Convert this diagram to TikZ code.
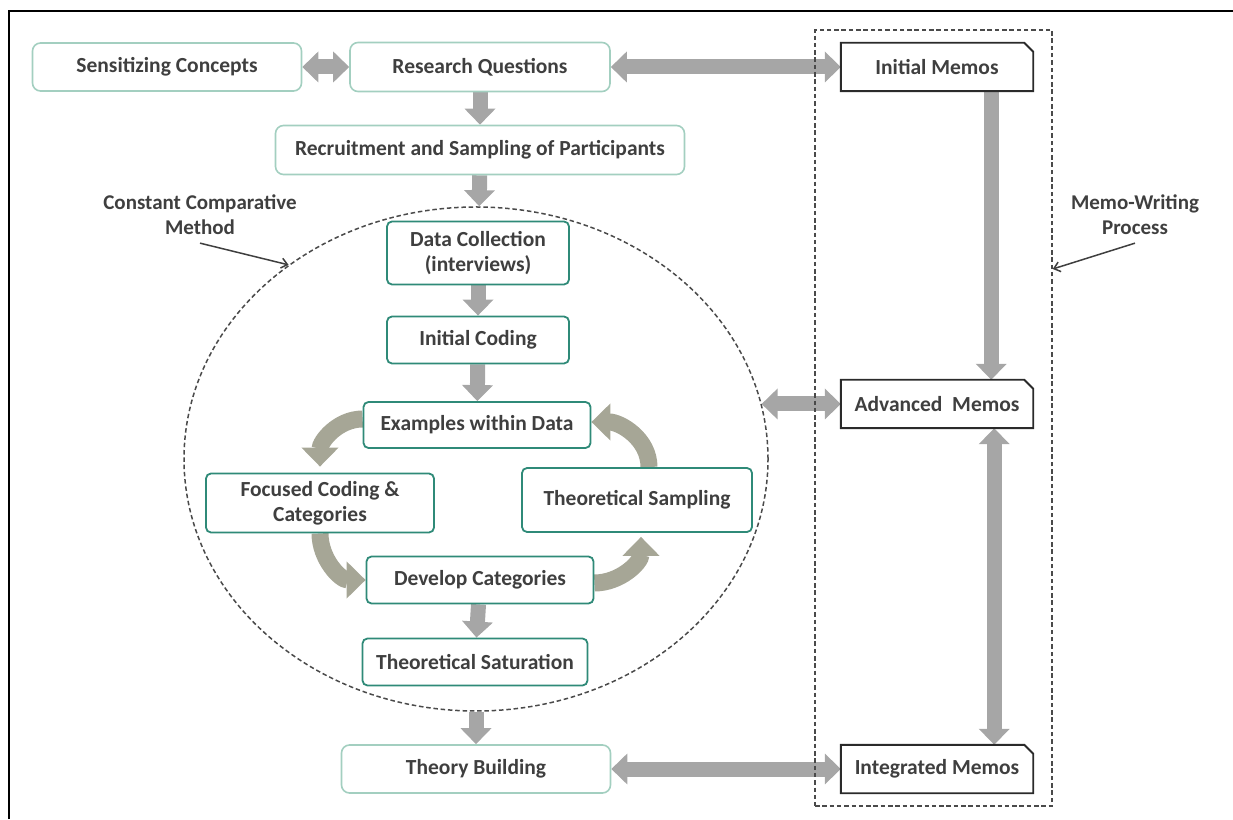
\documentclass[tikz,border=0pt]{standalone}
\usepackage{fontspec}
\setmainfont{Carlito}
\usetikzlibrary{arrows.meta,shapes.geometric,backgrounds}

\definecolor{txt}{HTML}{3F3F3F}
\definecolor{boxlight}{HTML}{A3CFC0}
\definecolor{boxteal}{HTML}{2F8A78}
\definecolor{arrgray}{HTML}{A6A6A6}
\definecolor{curvecol}{HTML}{A6A696}
\definecolor{memoline}{HTML}{2A2A2A}
\definecolor{dashcol}{HTML}{4A4A4A}

\tikzset{
  boxtext/.style={text=txt, font=\bfseries\fontsize{21.5}{25}\selectfont, align=center, inner sep=0pt},
  outerbox/.style={boxtext, draw=boxlight, line width=1.6pt, rounded corners=8pt, fill=white},
  innerbox/.style={boxtext, draw=boxteal, line width=1.8pt, rounded corners=5pt, fill=white},
  memobox/.style={boxtext, fill=white, minimum width=192pt, minimum height=48pt},
  memoedge/.style={draw=memoline, line width=1.9pt, line join=miter},
  note/.style={text=txt, font=\bfseries\fontsize{21}{25}\selectfont, align=center, inner sep=0pt},
  notearrow/.style={draw=txt, line width=1.5pt, -{Straight Barb[length=6pt,width=10pt]}},
  fatarrow/.style={draw=arrgray, line width=15pt, -{Triangle[width=30pt,length=16pt]}},
  fatdouble/.style={draw=arrgray, line width=15pt, {Triangle[width=30pt,length=16pt]}-{Triangle[width=30pt,length=16pt]}},
  cyclearrow/.style={draw=curvecol, line width=17pt, -{Triangle[width=36pt,length=19pt]}},
  dashedge/.style={draw=dashcol, line width=1.5pt, dash pattern=on 4.5pt off 2.8pt},
}

\begin{document}
\begin{tikzpicture}[x=1pt,y=1pt]
\useasboundingbox (0,0) rectangle (1233,819);

% partial page frame
\draw[line width=2.6pt] (9,0) -- (9,808) -- (1233,808);

% top row
\node[outerbox, minimum width=269pt, minimum height=48pt] (sens) at (167,752) {Sensitizing Concepts};
\node[outerbox, minimum width=260pt, minimum height=49pt] (rq) at (480,752) {Research Questions};
\node[outerbox, minimum width=409pt, minimum height=49pt] (rec) at (480,669) {Recruitment and Sampling of Participants};

% constant comparative loop
\node[innerbox, minimum width=182pt, minimum height=63pt] (dc) at (478,566) {Data Collection\\(interviews)};
\node[innerbox, minimum width=182pt, minimum height=47pt] (ic) at (478,479) {Initial Coding};
\node[innerbox, minimum width=227pt, minimum height=46pt] (ex) at (477,394) {Examples within Data};
\node[innerbox, minimum width=228pt, minimum height=59pt] (fc) at (320,316) {Focused Coding \&\\Categories};
\node[innerbox, minimum width=230pt, minimum height=64pt] (ts) at (637,319) {Theoretical Sampling};
\node[innerbox, minimum width=227pt, minimum height=47pt] (dv) at (480,239) {Develop Categories};
\node[innerbox, minimum width=225pt, minimum height=47pt] (sat) at (475,157) {Theoretical Saturation};

\node[outerbox, minimum width=269pt, minimum height=48pt] (tb) at (476,50) {Theory Building};

% memo column
\node[memobox] (im) at (937,752) {Initial Memos};
\node[memobox] (am) at (937,415) {Advanced~ Memos};
\node[memobox] (ig) at (937,50) {Integrated Memos};
\foreach \m in {im,am,ig}
  \draw[memoedge] (\m.south west) -- (\m.north west) -- ([xshift=-9pt]\m.north east)
    -- ([yshift=-9pt]\m.north east) -- (\m.south east) -- cycle;

% grouping outlines
\node[dashedge, ellipse, minimum width=584pt, minimum height=504pt, inner sep=0pt] (cc) at (476,360) {};
\node[dashedge, rectangle, minimum width=237pt, minimum height=776pt, inner sep=0pt] (mw) at (933.5,401) {};

% side notes
\node[note] (ccl) at (200,604) {Constant Comparative\\Method};
\node[note] (mwl) at (1135,604) {Memo-Writing\\Process};
\draw[notearrow] ([yshift=-8pt]ccl.south) -- (cc.134);
\draw[notearrow] ([yshift=-8pt]mwl.south) -- ([yshift=149pt]mw.east);

% connectors
\begin{scope}[on background layer]
  \draw[fatdouble] (sens) -- (rq);
  \draw[fatdouble] (rq) -- (im);
  \draw[fatarrow] (rq) -- (rec);
  \draw[fatarrow] (rec) -- (cc);
  \draw[fatarrow] (dc) -- (ic);
  \draw[fatarrow] (ic) -- (ex);
  \draw[fatarrow] (dv) -- (sat);
  \draw[fatarrow] (cc) -- (tb);
  \draw[fatdouble] (tb) -- (ig);
  \draw[fatdouble] (cc.11 |- am.west) -- (am.west);
  \draw[fatarrow] ([xshift=-42pt]im.south east) -- ([xshift=-42pt]am.north east);
  \draw[fatdouble] ([xshift=-39pt]am.south east) -- ([xshift=-39pt]ig.north east);

  \draw[cyclearrow] ([yshift=6pt]ex.west) to[out=180,in=90] ([yshift=6pt]fc.north);
  \draw[cyclearrow] (fc.south) to[out=-90,in=180] (dv.west);
  \draw[cyclearrow] ([yshift=-3pt]dv.east) to[out=0,in=-90] ([xshift=4pt,yshift=-4pt]ts.south);
  \draw[cyclearrow] ([xshift=12pt]ts.north) to[out=90,in=0] ([yshift=3pt]ex.east);
\end{scope}
\end{tikzpicture}
\end{document}
